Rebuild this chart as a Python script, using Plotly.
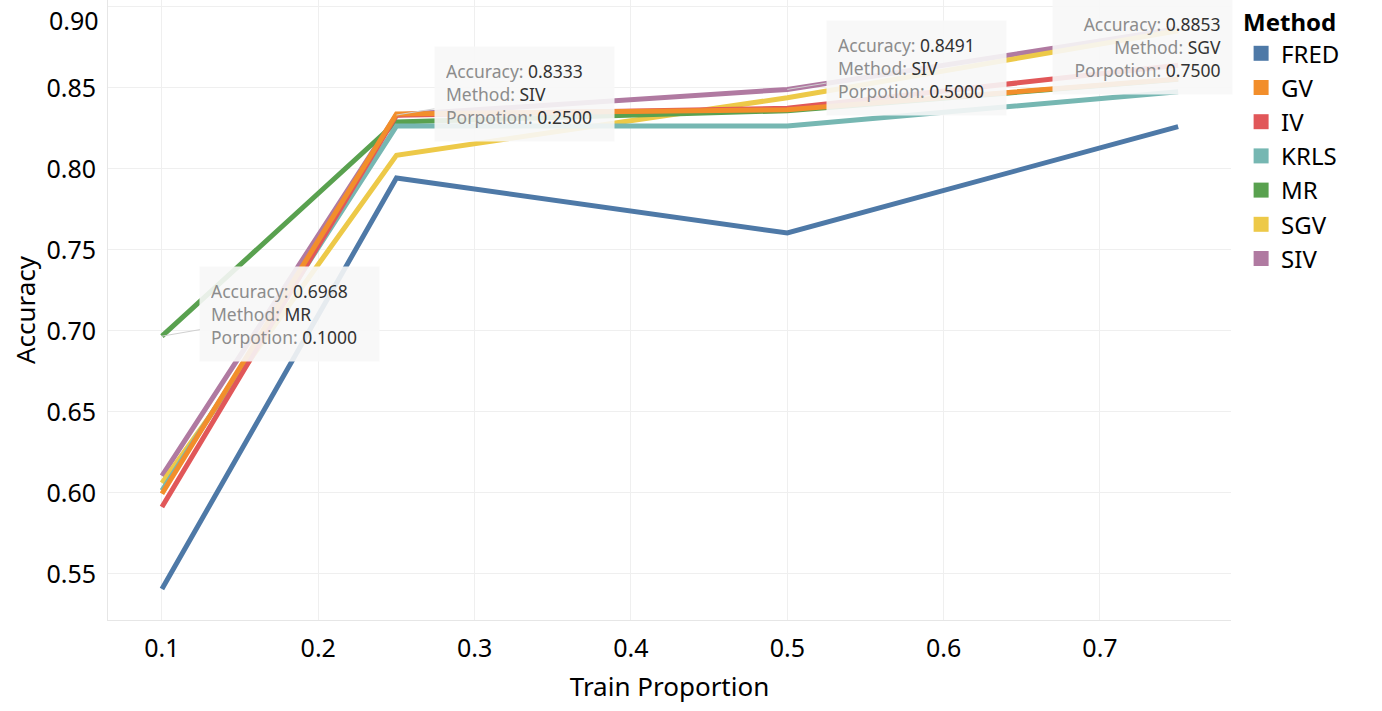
import plotly.graph_objects as go

# Train proportion on x, accuracy per method on y
proportion = [0.1, 0.25, 0.5, 0.75]
methods = ["FRED", "GV", "IV", "KRLS", "MR", "SGV", "SIV"]

fred = [0.5407, 0.7944, 0.7605, 0.8261]
gv = [0.5995, 0.8340, 0.8365, 0.8555]
iv = [0.5914, 0.8332, 0.8375, 0.8640]
krls = [0.6015, 0.8265, 0.8265, 0.8477]
mr = [0.6968, 0.8290, 0.8360, 0.8553]
sgv = [0.6062, 0.8085, 0.8440, 0.8853]
siv = [0.6105, 0.8333, 0.8491, 0.8865]

colors = ["#4e79a7", "#f28e2b", "#e15759", "#76b7b2", "#59a14f", "#edc948", "#b07aa1"]

y_ticks = [0.55, 0.60, 0.65, 0.70, 0.75, 0.80, 0.85, 0.90]

# tooltips that were pinned on the chart: (method, index into proportion)
pinned = [("MR", 0), ("SIV", 1), ("SIV", 2), ("SGV", 3)]

series = dict(zip(methods, [fred, gv, iv, krls, mr, sgv, siv]))
col = dict(zip(methods, colors))

fig = go.Figure()

# lines, drawn in reverse so FRED ends on top (like tableau)
for m in reversed(methods):
    fig.add_trace(go.Scatter(x=proportion, y=series[m], mode="lines", name=m,
                             line=dict(color=col[m], width=5),
                             showlegend=False, hoverinfo="skip"))

# square legend entries
for i, m in enumerate(methods):
    fig.add_trace(go.Scatter(x=[None], y=[None], mode="markers", name=m,
                             marker=dict(symbol="square", size=15, color=col[m]),
                             legendrank=i + 1, legendgroup=m))

offsets = {0: (128, -22), 1: (128, -21), 2: (129, -21), 3: (-36, 16)}
for k, (m, i) in enumerate(pinned):
    acc = series[m][i]
    lab = "<span style='color:#8c8c8c'>%s</span> <span style='color:#333333'>%s</span>"
    txt = "<br>".join([lab % ("Accuracy:", "%.4f" % acc),
                       lab % ("Method:", m),
                       lab % ("Porpotion:", "%.4f" % proportion[i])])
    ax, ay = offsets[k]
    fig.add_annotation(x=proportion[i], y=acc, xref="x", yref="y", text=txt,
                       showarrow=True, ax=ax, ay=ay, arrowhead=0, arrowwidth=1,
                       arrowcolor="#d0d0d0", standoff=0,
                       align="right" if k == 3 else "left",
                       width=157, height=72, borderpad=11,
                       bgcolor="rgba(247,247,247,0.9)",
                       font=dict(family="Noto Sans", size=17.5, color="#333333"))

# the top tick label sits a bit lower so it is not cut off
fig.add_annotation(x=0, y=y_ticks[-1], xref="paper", yref="y", text="%.2f" % y_ticks[-1],
                   showarrow=False, xanchor="right", yanchor="middle",
                   xshift=-7, yshift=-13, font=dict(size=25, color="black"))

fig.update_layout(
    width=1382, height=711,
    margin=dict(l=108, r=151, t=0, b=91),
    plot_bgcolor="white", paper_bgcolor="white",
    font=dict(family="Noto Sans", size=22, color="black"),
    legend=dict(title=dict(text="<b>Method</b>", font=dict(size=24)),
                x=1.009, xanchor="left", y=1.0, yanchor="top",
                font=dict(size=24), tracegroupgap=0),
)

fig.update_xaxes(range=[0.0655, 0.7838], dtick=0.1, tick0=0.1, tickformat=".1f",
                 showgrid=True, gridcolor="#efefef", zeroline=False,
                 showline=True, linecolor="#e6e6e6", automargin=False,
                 ticks="outside", ticklen=6, tickcolor="white",
                 tickfont=dict(size=25),
                 title=dict(text="Train Proportion", standoff=14))
fig.update_yaxes(range=[0.5216, 0.9043], tickvals=y_ticks,
                 ticktext=["%.2f" % v for v in y_ticks[:-1]] + [""],
                 showgrid=True, gridcolor="#efefef", zeroline=False,
                 showline=True, linecolor="#e6e6e6", automargin=False,
                 ticks="outside", ticklen=6, tickcolor="white",
                 tickfont=dict(size=25),
                 title=dict(text="Accuracy", standoff=3))

# no page margin around the figure, no toolbar
fig.write_html("out.html", config={"displayModeBar": False},
               post_script="document.body.style.margin='0';")
